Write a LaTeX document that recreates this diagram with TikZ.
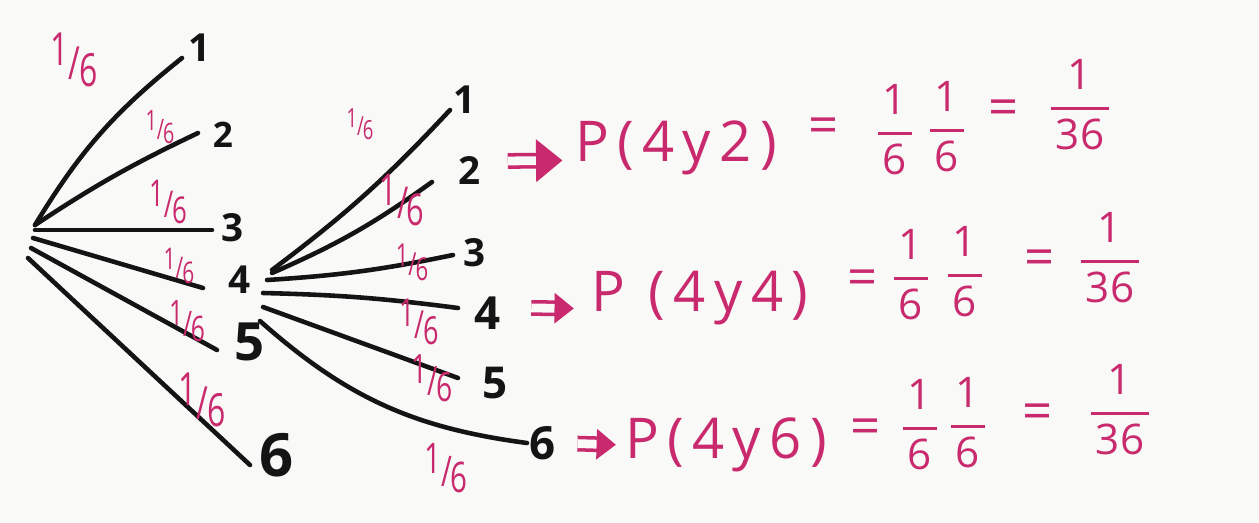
\documentclass[tikz,border=0pt]{standalone}
\usepackage{xcolor}
\definecolor{InkBlack}{HTML}{141414}
\definecolor{MarkerPink}{HTML}{C92A6E}
\definecolor{PaperWhite}{HTML}{F9F9F7}
\usepackage{amsmath}
\usepackage{fontspec}
\setmainfont{Open Sans}
\newfontfamily\eqfont[LetterSpace=15]{Open Sans}
\usepackage{tikz}
\usetikzlibrary{calc,arrows.meta}

% handwritten one-sixth and stacked fractions
\newcommand{\sixth}{\scalebox{0.7}[1]{\raisebox{0.3em}{1}/\kern-0.05em\raisebox{-0.15em}{6}}}
\newcommand{\hfrac}[2]{$\genfrac{}{}{1.8pt}{0}{\text{#1}}{\text{\kern.12em#2\kern.12em}}$}

\begin{document}
\begin{tikzpicture}[x=0.02cm, y=0.02cm,
    branch/.style={line width=2.6pt, draw=InkBlack, line cap=round},
    leaf/.style={text=InkBlack, inner sep=1pt},
    prob/.style={text=MarkerPink, inner sep=1pt},
    eqtext/.style={prob, font=\eqfont\fontsize{32}{32}\selectfont},
    eqsign/.style={prob, font=\fontsize{30}{30}\selectfont},
    eqfrac/.style={prob, font=\fontsize{24}{24}\selectfont},
    implies/.style={draw=MarkerPink, line width=2pt, double=PaperWhite,
      double distance=5pt, -{Triangle[length=11pt, width=17pt]}}]
    \useasboundingbox (0,0) rectangle (1259,-522);
    \fill[PaperWhite] (0,0) rectangle (1259,-522);

    % Draw first throw: root and its six outcomes
    \coordinate (root) at (35,-230);
    \foreach \k/\lx/\ly/\sz/\sx/\sy/\tx/\ty/\bd in {
        1/200/-48/22/0/5/-18/-10/10,
        2/223/-135/20/0/5/-25/2/4,
        3/233/-228/22/0/0/-21/-2/0,
        4/240/-280/22/-2/-8/-37/-8/0,
        5/250/-342/30/-4/-18/-33/-8/0,
        6/277/-455/34/-7/-28/-27/-10/0} {
      \node[leaf, font=\bfseries\fontsize{\sz}{\sz}\selectfont] (a\k) at (\lx,\ly) {\k};
      \draw[branch] ($(root)+(\sx,\sy)$) to[bend left=\bd] ($(a\k)+(\tx,\ty)$);
    }

    % Draw second throw, growing out of the 4
    \foreach \k/\lx/\ly/\sz/\sx/\sy/\tx/\ty/\bd in {
        1/465/-100/22/32/10/-15/-10/-5,
        2/470/-170/22/32/7/-38/-12/-6,
        3/475/-253/22/27/0/-22/-2/-4,
        4/488/-313/26/23/-13/-30/5/3,
        5/495/-383/25/23/-27/-37/5/0,
        6/543/-443/26/20/-41/-16/0/-17} {
      \node[leaf, font=\bfseries\fontsize{\sz}{\sz}\selectfont] (b\k) at (\lx,\ly) {\k};
      \draw[branch] ($(a4)+(\sx,\sy)$) to[bend left=\bd] ($(b\k)+(\tx,\ty)$);
    }

    % Branch probabilities
    \foreach \px/\py/\sz [count=\i] in {74/-60/26, 160/-127/16, 168/-202/21,
        179/-266/17, 187/-321/20, 202/-400/26, 360/-124/15, 402/-200/25,
        412/-262/18, 419/-322/22, 432/-378/23, 446/-468/24} {
      \node[prob, font=\fontsize{\sz}{\sz}\selectfont] (p\i) at (\px,\py) {\sixth};
    }

    % Results for 4 and 2
    \node[eqtext] (e1) at (676,-148) {P(4y2)};
    \node[eqsign] (q1) at (824,-131) {=};
    \node[eqfrac] (f1) at (895,-130) {\hfrac{1}{6}};
    \node[eqfrac] (g1) at (947,-127) {\hfrac{1}{6}};
    \node[eqsign] (s1) at (1004,-113) {=};
    \node[eqfrac] (r1) at (1080,-105) {\hfrac{1}{36}};
    \draw[implies, -{Triangle[length=15pt, width=24pt]}, shorten <=14pt, shorten >=6pt]
      ([yshift=5pt]b2.east) -- ([yshift=-7pt]e1.west);

    % Results for 4 and 4
    \node[eqtext] (e2) at (700,-298) {P (4y4)};
    \node[eqsign] (q2) at (863,-283) {=};
    \node[eqfrac] (f2) at (911,-275) {\hfrac{1}{6}};
    \node[eqfrac] (g2) at (965,-272) {\hfrac{1}{6}};
    \node[eqsign] (s2) at (1040,-263) {=};
    \node[eqfrac] (r2) at (1110,-258) {\hfrac{1}{36}};
    \draw[implies, shorten <=16pt, shorten >=9pt] ([yshift=3pt]b4.east) -- ([yshift=-6pt]e2.west);

    % Results for 4 and 6
    \node[eqtext] (e3) at (726,-445) {P(4y6)};
    \node[eqsign] (q3) at (866,-432) {=};
    \node[eqfrac] (f3) at (920,-425) {\hfrac{1}{6}};
    \node[eqfrac] (g3) at (968,-423) {\hfrac{1}{6}};
    \node[eqsign] (s3) at (1038,-417) {=};
    \node[eqfrac] (r3) at (1120,-410) {\hfrac{1}{36}};
    \draw[implies, shorten <=11pt, shorten >=4pt] (b6.east) -- (e3.west);
\end{tikzpicture}
\end{document}
